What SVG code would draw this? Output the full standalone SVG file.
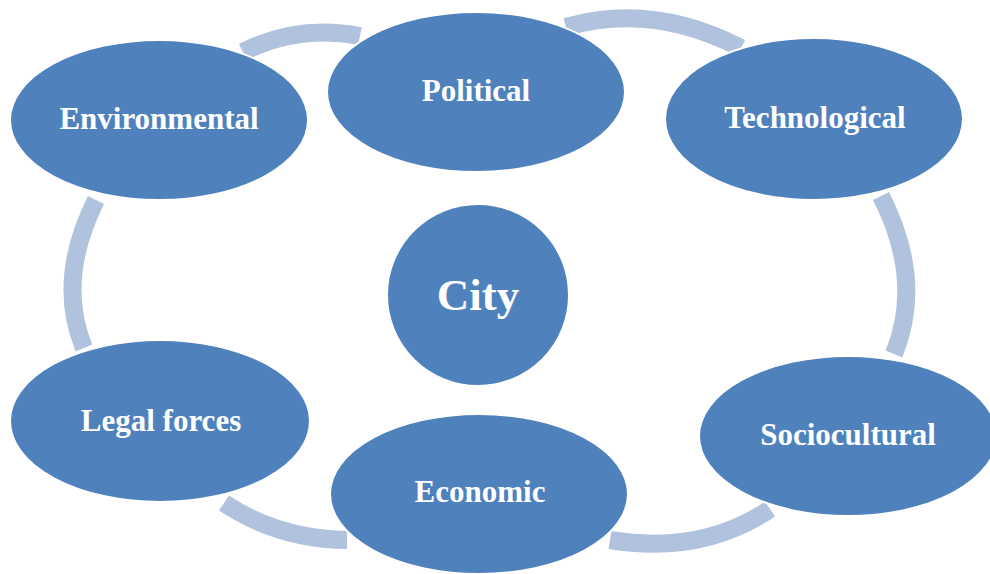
<svg xmlns="http://www.w3.org/2000/svg" width="990" height="574" viewBox="0 0 990 574">
<style>
.arc{fill:none;stroke:#B0C2DD;stroke-width:18;stroke-linecap:butt}
.node{fill:#4F81BD;stroke:#FFFFFF;stroke-width:2}
.lbl{font-family:"Liberation Serif","Times New Roman",serif;font-weight:bold;font-size:31px;fill:#FFFFFF;text-anchor:middle}
.big{font-size:45px}
</style>
<rect width="990" height="574" fill="#FFFFFF"/>
<g id="connectors">
<path class="arc" d="M 243 52 Q 298 24 360 36"/>
<path class="arc" d="M 566 27 Q 652 2 741 48"/>
<path class="arc" d="M 881 196 Q 924 280 894 354"/>
<path class="arc" d="M 224 503 Q 278 539 347 540"/>
<path class="arc" d="M 610 540 Q 702 555 770 509"/>
<path class="arc" d="M 96 200 Q 56 280 84 348"/>
</g>
<g id="environmental">
<ellipse class="node" cx="159" cy="120" rx="149" ry="80"/>
<text class="lbl" x="159" y="129">Environmental</text>
</g>
<g id="political">
<ellipse class="node" cx="476" cy="92" rx="149" ry="80"/>
<text class="lbl" x="476" y="101">Political</text>
</g>
<g id="technological">
<ellipse class="node" cx="814" cy="119" rx="149" ry="81"/>
<text class="lbl" x="815" y="128">Technological</text>
</g>
<g id="legal">
<ellipse class="node" cx="160" cy="421" rx="150" ry="81"/>
<text class="lbl" x="161" y="431">Legal forces</text>
</g>
<g id="economic">
<ellipse class="node" cx="479" cy="494" rx="149" ry="80"/>
<text class="lbl" x="480" y="502">Economic</text>
</g>
<g id="sociocultural">
<ellipse class="node" cx="848" cy="436" rx="149" ry="80"/>
<text class="lbl" x="848" y="445">Sociocultural</text>
</g>
<g id="city">
<circle class="node" cx="478" cy="295" r="91"/>
<text class="lbl big" x="478" y="310">City</text>
</g>
</svg>
